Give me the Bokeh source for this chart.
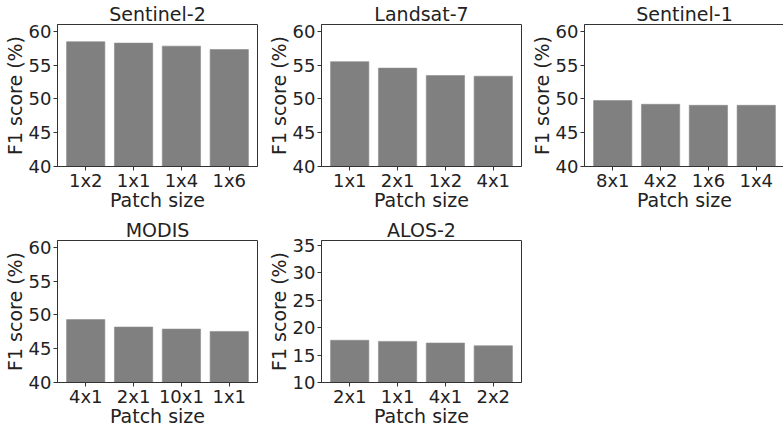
from bokeh.plotting import figure
from bokeh.layouts import column, row
from bokeh.models import FactorRange, Range1d, FixedTicker, GlobalInlineStyleSheet
from bokeh.embed import file_html
from bokeh.resources import INLINE

# ---- data ----
s2_title = "Sentinel-2"
s2_patch = ["1x2", "1x1", "1x4", "1x6"]
s2_f1 = [58.45, 58.25, 57.8, 57.3]

l7_title = "Landsat-7"
l7_patch = ["1x1", "2x1", "1x2", "4x1"]
l7_f1 = [55.5, 54.55, 53.45, 53.35]

s1_title = "Sentinel-1"
s1_patch = ["8x1", "4x2", "1x6", "1x4"]
s1_f1 = [49.75, 49.2, 49.05, 49.05]

mo_title = "MODIS"
mo_patch = ["4x1", "2x1", "10x1", "1x1"]
mo_f1 = [49.3, 48.2, 47.9, 47.55]

al_title = "ALOS-2"
al_patch = ["2x1", "1x1", "4x1", "2x2"]
al_f1 = [17.7, 17.5, 17.2, 16.7]

ticks_top = [40, 45, 50, 55, 60]
ticks_alos = [10, 15, 20, 25, 30, 35]

x_label = "Patch size"
y_label = "F1 score (%)"

FONT = "DejaVu Sans"
TXT = "#222222"
LINE = "#333333"


def panel(title, cats, vals, ylim, ticks, width, height, bl, br, bt, bb):
    p = figure(
        x_range=FactorRange(factors=cats, range_padding=0.045, range_padding_units="percent"),
        y_range=Range1d(*ylim),
        width=width, height=height,
        min_border_left=bl, min_border_right=br, min_border_top=bt, min_border_bottom=bb,
        output_backend="svg", toolbar_location=None,
        title=title,
    )
    p.vbar(x=cats, top=vals, bottom=ylim[0], width=0.8,
           fill_color="#808080", line_color="#8a8a8a", line_width=0.6)
    p.title.align = "center"
    p.title.text_font = FONT
    p.title.text_font_size = "19px"
    p.title.text_font_style = "normal"
    p.title.text_color = TXT
    p.title.standoff = 0
    p.title.offset = 0
    p.title.text_line_height = 1.0
    p.xgrid.visible = False
    p.ygrid.visible = False
    p.outline_line_color = LINE
    p.outline_line_width = 1
    p.outline_line_alpha = 1
    p.yaxis.ticker = FixedTicker(ticks=ticks)
    p.xaxis.axis_label = x_label
    p.yaxis.axis_label = y_label
    for ax in (p.xaxis[0], p.yaxis[0]):
        ax.axis_label_text_font = FONT
        ax.axis_label_text_font_size = "19px"
        ax.axis_label_text_font_style = "normal"
        ax.axis_label_text_color = TXT
        ax.axis_label_standoff = 0
        ax.axis_label_text_line_height = 1.0
        ax.major_label_text_font = FONT
        ax.major_label_text_font_size = "18px"
        ax.major_label_text_color = TXT
        ax.major_label_text_line_height = 1.0
        ax.major_label_standoff = 2
        ax.axis_line_color = LINE
        ax.major_tick_line_color = LINE
        ax.major_tick_in = 0
        ax.major_tick_out = 4
        ax.minor_tick_line_color = None
    p.xaxis.major_label_orientation = "horizontal"
    p.xaxis.major_label_standoff = -1
    p.xaxis.axis_label_standoff = -5
    return p


H1 = 213
H2 = 216
p1 = panel(s2_title, s2_patch, s2_f1, (40, 61), ticks_top, 264, H1, 54, 7, 17, 10)
p2 = panel(l7_title, l7_patch, l7_f1, (40, 61), ticks_top, 263, H1, 54, 6, 17, 10)
p3 = panel(s1_title, s1_patch, s1_f1, (40, 61), ticks_top, 263, H1, 54, 6, 17, 10)
p4 = panel(mo_title, mo_patch, mo_f1, (40, 61), ticks_top, 264, H2, 54, 7, 27, 10)
p5 = panel(al_title, al_patch, al_f1, (10, 35.9), ticks_alos, 263, H2, 54, 6, 27, 10)

# the reference picture is cut at its right and bottom edges: no scrollbars
clip = GlobalInlineStyleSheet(css="html, body { overflow: hidden; }")
layout = column(row(p1, p2, p3), row(p4, p5), stylesheets=[clip])

open("out.html", "w").write(file_html(layout, INLINE))
